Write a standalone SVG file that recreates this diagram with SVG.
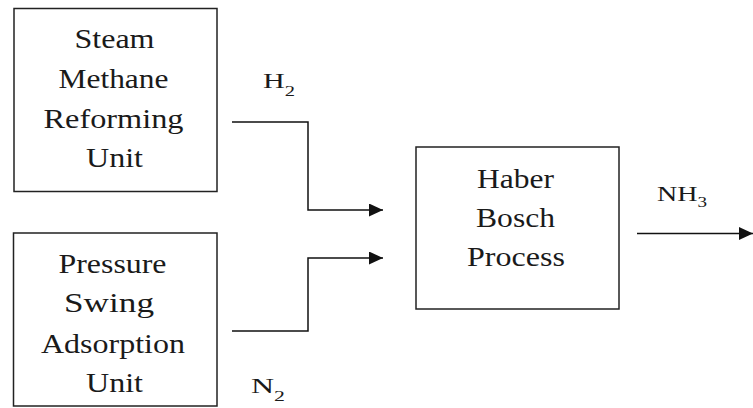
<svg xmlns="http://www.w3.org/2000/svg" width="753" height="408" viewBox="0 0 753 408">
<style>
text{font-family:'Liberation Serif','Times New Roman',serif;fill:#1a1a1a}
.t{font-size:27px;text-anchor:middle}
.l{font-size:22px}
.s{font-size:15px}
.box{fill:#fff;stroke:#222;stroke-width:1.5}
.c{fill:none;stroke:#111;stroke-width:1.5}
</style>
<defs>
<marker id="ah" markerUnits="userSpaceOnUse" markerWidth="14" markerHeight="14" refX="14" refY="6.5" orient="auto">
<path d="M0,0 L14,6.5 L0,13 z" fill="#111"/>
</marker>
</defs>
<rect width="753" height="408" fill="#fff"/>
<g id="smr">
<rect class="box" x="14" y="8.5" width="203" height="183"/>
<text class="t" x="114.5" y="48" textLength="80" lengthAdjust="spacingAndGlyphs">Steam</text>
<text class="t" x="113.5" y="88" textLength="110" lengthAdjust="spacingAndGlyphs">Methane</text>
<text class="t" x="113.5" y="128" textLength="140" lengthAdjust="spacingAndGlyphs">Reforming</text>
<text class="t" x="114.5" y="167" textLength="57" lengthAdjust="spacingAndGlyphs">Unit</text>
</g>
<g id="psa">
<rect class="box" x="13.5" y="233" width="203.5" height="173"/>
<text class="t" x="112.5" y="273" textLength="108" lengthAdjust="spacingAndGlyphs">Pressure</text>
<text class="t" x="109" y="312" textLength="90" lengthAdjust="spacingAndGlyphs">Swing</text>
<text class="t" x="113" y="353" textLength="144" lengthAdjust="spacingAndGlyphs">Adsorption</text>
<text class="t" x="114.5" y="392" textLength="57" lengthAdjust="spacingAndGlyphs">Unit</text>
</g>
<g id="hb">
<rect class="box" x="416" y="147" width="203" height="162"/>
<text class="t" x="515.5" y="188" textLength="77" lengthAdjust="spacingAndGlyphs">Haber</text>
<text class="t" x="515.5" y="227" textLength="79" lengthAdjust="spacingAndGlyphs">Bosch</text>
<text class="t" x="516" y="266" textLength="98" lengthAdjust="spacingAndGlyphs">Process</text>
</g>
<g id="labels">
<text class="l" x="263" y="88" textLength="32" lengthAdjust="spacingAndGlyphs">H<tspan class="s" dy="8">2</tspan></text>
<text class="l" x="251" y="393" textLength="34" lengthAdjust="spacingAndGlyphs">N<tspan class="s" dy="8">2</tspan></text>
<text class="l" x="657" y="201" textLength="50" lengthAdjust="spacingAndGlyphs">NH<tspan class="s" dy="6">3</tspan></text>
</g>
<g id="connectors">
<path class="c" d="M232,122 H308 V210 H383" marker-end="url(#ah)"/>
<path class="c" d="M232,331 H308 V258 H383" marker-end="url(#ah)"/>
<path class="c" d="M637,233.5 H753" marker-end="url(#ah)"/>
</g>
</svg>
